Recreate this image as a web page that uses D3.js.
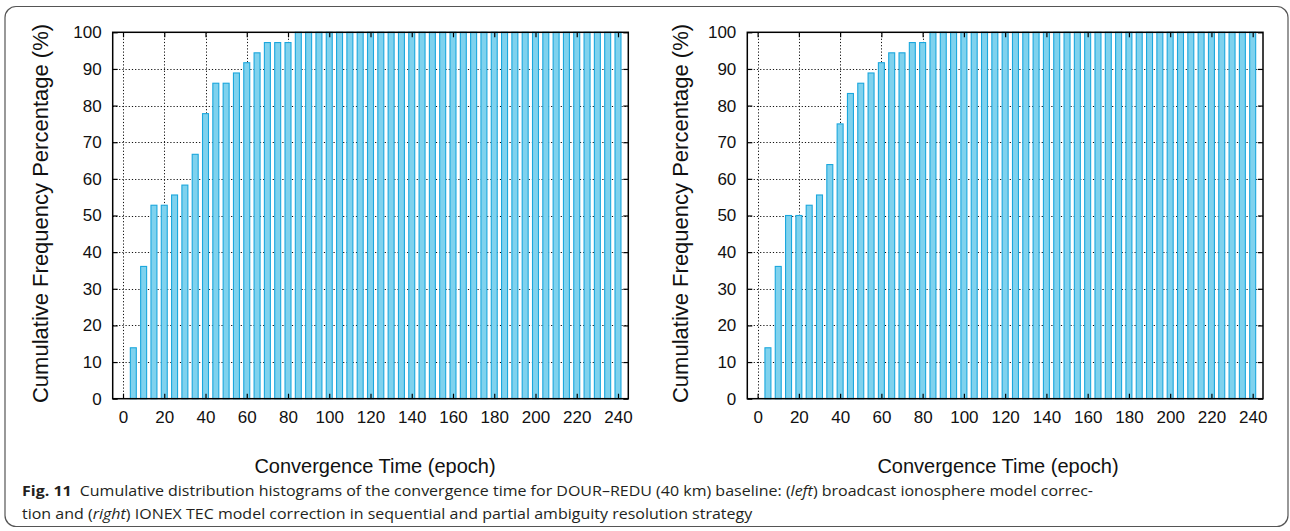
<!DOCTYPE html>
<html>
<head>
<meta charset="utf-8">
<script src="https://cdn.jsdelivr.net/npm/d3@7"></script>
<style>
  html, body { margin: 0; padding: 0; background: #fff; }
  svg { display: block; }
</style>
</head>
<body>
<svg id="fig" width="1290" height="531"></svg>
<script>
// Convergence time bins (epochs)
const epochs = [5, 10, 15, 20, 25, 30, 35, 40, 45, 50, 55, 60, 65, 70, 75, 80,
  85, 90, 95, 100, 105, 110, 115, 120, 125, 130, 135, 140, 145, 150, 155, 160,
  165, 170, 175, 180, 185, 190, 195, 200, 205, 210, 215, 220, 225, 230, 235, 240];

// Cumulative frequency (%) – broadcast ionosphere model correction
const broadcastCum = [13.9, 36.1, 52.8, 52.8, 55.6, 58.3, 66.7, 77.8, 86.1, 86.1, 88.9, 91.7, 94.4, 97.2, 97.2, 97.2,
  100, 100, 100, 100, 100, 100, 100, 100, 100, 100, 100, 100, 100, 100, 100, 100,
  100, 100, 100, 100, 100, 100, 100, 100, 100, 100, 100, 100, 100, 100, 100, 100];

// Cumulative frequency (%) – IONEX TEC model correction
const ionexCum = [13.9, 36.1, 50.0, 50.0, 52.8, 55.6, 63.9, 75.0, 83.3, 86.1, 88.9, 91.7, 94.4, 94.4, 97.2, 97.2,
  100, 100, 100, 100, 100, 100, 100, 100, 100, 100, 100, 100, 100, 100, 100, 100,
  100, 100, 100, 100, 100, 100, 100, 100, 100, 100, 100, 100, 100, 100, 100, 100];

const xTicks = [0, 20, 40, 60, 80, 100, 120, 140, 160, 180, 200, 220, 240];
const yTicks = [0, 10, 20, 30, 40, 50, 60, 70, 80, 90, 100];

const xTitle = "Convergence Time (epoch)";
const yTitle = "Cumulative Frequency Percentage (%)";

const svg = d3.select("#fig");
const FONT = "'Liberation Sans', Arial, Helvetica, sans-serif";

// rounded figure frame
svg.append("rect")
  .attr("x", 5).attr("y", 6.5)
  .attr("width", 1283).attr("height", 520)
  .attr("rx", 11).attr("ry", 11)
  .attr("fill", "none").attr("stroke", "#555").attr("stroke-width", 1.2);

function panel(values, box, yLabelX, xLabelX) {
  const g = svg.append("g");
  const x = d3.scaleLinear().domain([-5, 245]).range([box.left, box.right]);
  const y = d3.scaleLinear().domain([0, 100]).range([box.bottom, box.top]);

  // dotted grid
  const grid = g.append("g")
    .attr("stroke", "#111").attr("stroke-width", 1)
    .attr("stroke-dasharray", "1.2,2");
  grid.selectAll("line.h").data(yTicks.filter(v => v > 0 && v < 100)).join("line")
    .attr("class", "h")
    .attr("x1", box.left).attr("x2", box.right)
    .attr("y1", d => Math.round(y(d)) + 0.5).attr("y2", d => Math.round(y(d)) + 0.5);
  grid.selectAll("line.v").data(xTicks).join("line")
    .attr("class", "v")
    .attr("x1", d => Math.round(x(d)) + 0.5).attr("x2", d => Math.round(x(d)) + 0.5)
    .attr("y1", box.top).attr("y2", box.bottom);

  // bars
  const bw = x(2.9) - x(0);
  g.append("g").selectAll("rect").data(epochs).join("rect")
    .attr("x", (d) => x(d) - bw / 2)
    .attr("width", bw)
    .attr("y", (d, i) => y(values[i]))
    .attr("height", (d, i) => y(0) - y(values[i]))
    .attr("fill", "#7fd2ee")
    .attr("stroke", "#1ba7dd")
    .attr("stroke-width", 1.1);

  // axes with inward ticks, mirrored on top/right
  const ax = (sel) => sel.call(s => s.select(".domain").remove())
    .call(s => s.selectAll(".tick line").attr("stroke", "#000").attr("stroke-width", 1.2));

  g.append("g").attr("transform", `translate(0,${box.bottom})`)
    .call(d3.axisBottom(x).tickValues(xTicks).tickSizeInner(-5).tickSizeOuter(0).tickPadding(12))
    .call(ax)
    .call(s => s.selectAll("text").attr("font-family", FONT).attr("font-size", 17).attr("fill", "#111"));
  g.append("g").attr("transform", `translate(0,${box.top})`)
    .call(d3.axisTop(x).tickValues(xTicks).tickSizeInner(-5).tickSizeOuter(0).tickFormat(""))
    .call(ax);
  g.append("g").attr("transform", `translate(${box.left},0)`)
    .call(d3.axisLeft(y).tickValues(yTicks).tickSizeInner(-5).tickSizeOuter(0).tickPadding(11))
    .call(ax)
    .call(s => s.selectAll("text").attr("font-family", FONT).attr("font-size", 17).attr("fill", "#111"));
  g.append("g").attr("transform", `translate(${box.right},0)`)
    .call(d3.axisRight(y).tickValues(yTicks).tickSizeInner(-5).tickSizeOuter(0).tickFormat(""))
    .call(ax);

  // plot frame
  g.append("rect")
    .attr("x", box.left).attr("y", box.top)
    .attr("width", box.right - box.left).attr("height", box.bottom - box.top)
    .attr("fill", "none").attr("stroke", "#000").attr("stroke-width", 1.5);

  // axis titles
  g.append("text")
    .attr("x", xLabelX).attr("y", 473)
    .attr("text-anchor", "middle")
    .attr("font-family", FONT).attr("font-size", 20).attr("fill", "#111")
    .text(xTitle);
  g.append("text")
    .attr("transform", `translate(${yLabelX},${(box.top + box.bottom) / 2 - 2}) rotate(-90)`)
    .attr("text-anchor", "middle")
    .attr("font-family", FONT).attr("font-size", 22).attr("fill", "#111")
    .text(yTitle);
}

panel(broadcastCum, { left: 112.7, right: 628.3, top: 32.3, bottom: 398.7 }, 47.5, 375);
panel(ionexCum, { left: 747.3, right: 1263, top: 32.3, bottom: 398.7 }, 688, 998);

// caption
const CAP = "'Open Sans', 'Noto Sans', sans-serif";
const cap = svg.append("g").attr("font-family", CAP).attr("fill", "#231f20");
const l1 = cap.append("text").attr("x", 22).attr("y", 496).attr("font-size", 15)
  .attr("lengthAdjust", "spacingAndGlyphs");
l1.append("tspan").attr("font-weight", "bold").text("Fig. 11");
l1.append("tspan").text("\u2002Cumulative distribution histograms of the convergence time for DOUR\u2013REDU (40 km) baseline: (");
l1.append("tspan").attr("font-style", "italic").text("left");
l1.append("tspan").text(") broadcast ionosphere model correc-");
const l2 = cap.append("text").attr("x", 22).attr("y", 519).attr("font-size", 15)
  .attr("lengthAdjust", "spacingAndGlyphs");
l2.append("tspan").text("tion and (");
l2.append("tspan").attr("font-style", "italic").text("right");
l2.append("tspan").text(") IONEX TEC model correction in sequential and partial ambiguity resolution strategy");

// condense the caption so its first line spans the measured width
const w1 = l1.node().getComputedTextLength();
const w2 = l2.node().getComputedTextLength();
const k = 1071 / w1;
l1.attr("textLength", w1 * k);
l2.attr("textLength", w2 * k);
</script>
</body>
</html>
